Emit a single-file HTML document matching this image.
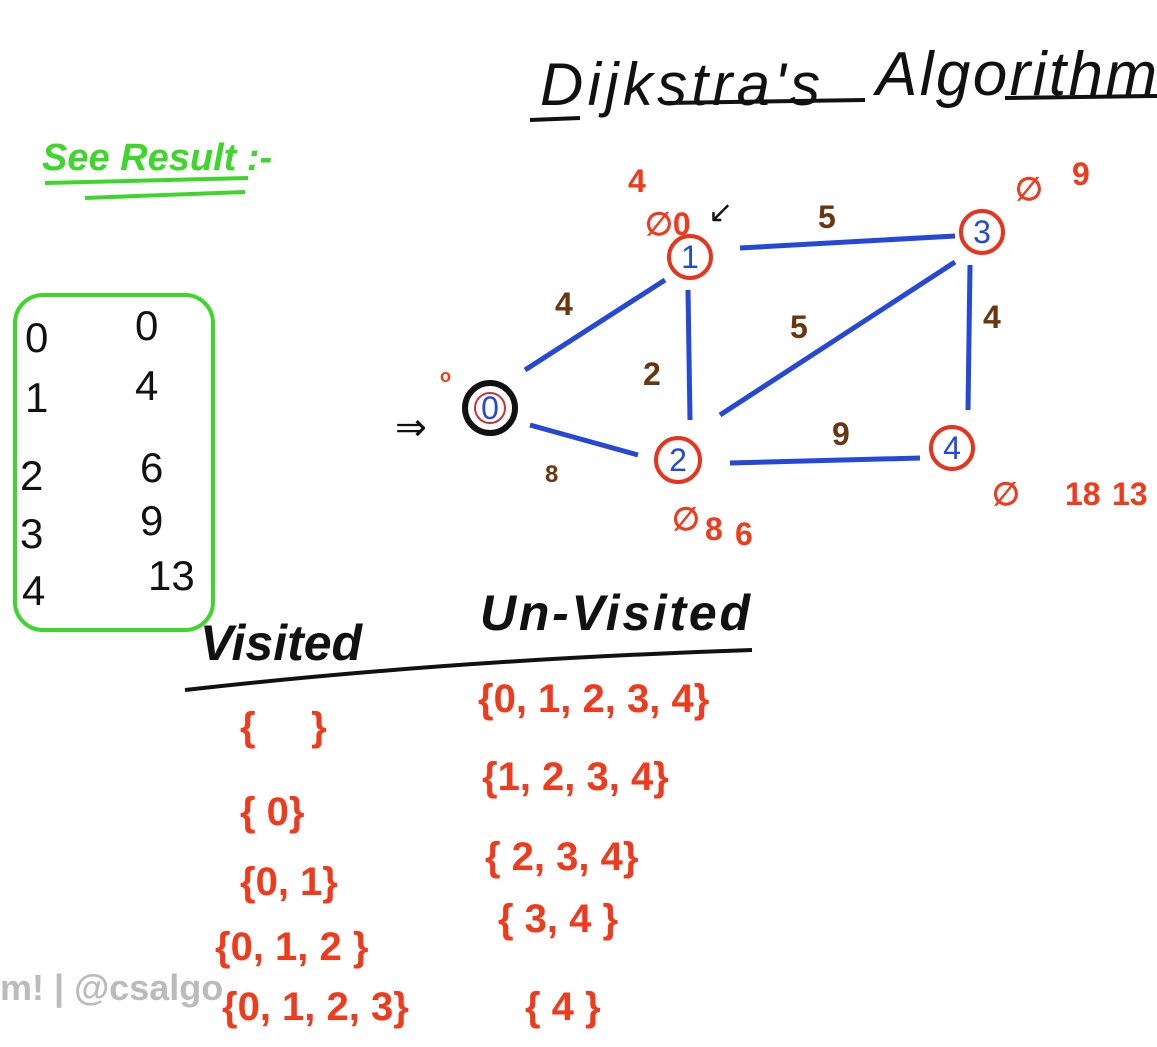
<!DOCTYPE html>
<html><head><meta charset="utf-8"><style>
html,body{margin:0;padding:0;background:#fff;}
svg{display:block;font-family:"Liberation Sans",sans-serif;}
</style></head><body>
<svg width="1157" height="1047" viewBox="0 0 1157 1047">
<rect width="1157" height="1047" fill="#fff"/>
<g>
<text x="540" y="105" font-size="60" fill="#111" font-style="italic" textLength="280">Dijkstra's</text>
<text x="876" y="95" font-size="62" fill="#111" font-style="italic" textLength="281">Algorithm</text>
<path d="M530 120 L580 118 M665 103 L865 100 M1005 98 L1157 96" stroke="#111" stroke-width="4" fill="none"/>
</g>
<g>
<text x="42" y="170" font-size="38" fill="#3ed62a" font-style="italic" font-weight="bold">See Result :-</text>
<path d="M45 183 L248 178 M85 198 L245 192" stroke="#3ed62a" stroke-width="4" fill="none"/>
</g>
<g font-size="42" fill="#111">
<rect x="15" y="295" width="198" height="335" rx="28" fill="none" stroke="#3ed62a" stroke-width="4"/>
<text x="25" y="352">0</text><text x="135" y="340">0</text>
<text x="25" y="412">1</text><text x="135" y="400">4</text>
<text x="20" y="490">2</text><text x="140" y="482">6</text>
<text x="20" y="548">3</text><text x="140" y="535">9</text>
<text x="22" y="605">4</text><text x="148" y="590">13</text>
</g>
<g stroke="#2548d8" stroke-width="5" fill="none">
<line x1="525" y1="370" x2="665" y2="280"/>
<line x1="530" y1="425" x2="638" y2="455"/>
<line x1="688" y1="290" x2="690" y2="420"/>
<line x1="740" y1="248" x2="955" y2="236"/>
<line x1="720" y1="415" x2="955" y2="262"/>
<line x1="970" y1="265" x2="968" y2="410"/>
<line x1="730" y1="463" x2="920" y2="458"/>
</g>
<g font-size="32" fill="#6b3510" font-weight="bold">
<text x="555" y="315">4</text><text x="818" y="228">5</text><text x="790" y="338">5</text>
<text x="983" y="328">4</text><text x="643" y="385">2</text><text x="832" y="445">9</text>
<text x="545" y="482" font-size="24">8</text>
</g>
<g font-size="32" text-anchor="middle">
<circle cx="490" cy="408" r="25" fill="none" stroke="#111" stroke-width="6"/>
<circle cx="490" cy="408" r="15" fill="none" stroke="#c33" stroke-width="2"/>
<text x="490" y="419" fill="#2548d8">0</text>
<circle cx="690" cy="257" r="21" fill="none" stroke="#e8341c" stroke-width="4"/>
<text x="690" y="268" fill="#2548d8">1</text>
<circle cx="678" cy="460" r="22" fill="none" stroke="#e8341c" stroke-width="4"/>
<text x="678" y="471" fill="#2548d8">2</text>
<circle cx="982" cy="232" r="21" fill="none" stroke="#e8341c" stroke-width="4"/>
<text x="982" y="243" fill="#2548d8">3</text>
<circle cx="952" cy="448" r="21" fill="none" stroke="#e8341c" stroke-width="4"/>
<text x="952" y="459" fill="#2548d8">4</text>
</g>
<g font-size="32" fill="#f03a1c" font-weight="bold">
<text x="628" y="192">4</text><text x="645" y="235">∅0</text>
<text x="1015" y="200">∅</text><text x="1072" y="185">9</text>
<text x="672" y="530">∅</text><text x="705" y="540">8</text><text x="735" y="545">6</text>
<text x="992" y="505">∅</text><text x="1065" y="505">18</text><text x="1112" y="505">13</text>
<text x="440" y="382" font-size="18">o</text>
<text x="395" y="440" font-size="38" fill="#111" font-weight="normal">⇒</text>
<text x="708" y="222" font-size="30" fill="#111" font-weight="normal">↙</text>
</g>
<g font-size="50" fill="#111" font-style="italic" font-weight="bold">
<text x="200" y="660">Visited</text>
<text x="480" y="630" textLength="270">Un-Visited</text>
<path d="M185 690 Q450 660 752 650" stroke="#111" stroke-width="4" fill="none"/>
</g>
<g font-size="40" fill="#f03a1c" font-weight="bold">
<text x="240" y="740">{&#160;&#160;&#160;&#160;&#160;}</text>
<text x="478" y="712">{0, 1, 2, 3, 4}</text>
<text x="240" y="825">{ 0}</text>
<text x="482" y="790">{1, 2, 3, 4}</text>
<text x="240" y="895">{0, 1}</text>
<text x="485" y="870">{ 2, 3, 4}</text>
<text x="215" y="960">{0, 1, 2 }</text>
<text x="498" y="932">{ 3, 4 }</text>
<text x="222" y="1020">{0, 1, 2, 3}</text>
<text x="525" y="1020">{ 4 }</text>
</g>
<text x="0" y="1000" font-size="36" fill="#bbb" font-weight="bold">m! | @csalgo</text>
</svg>
</body></html>
